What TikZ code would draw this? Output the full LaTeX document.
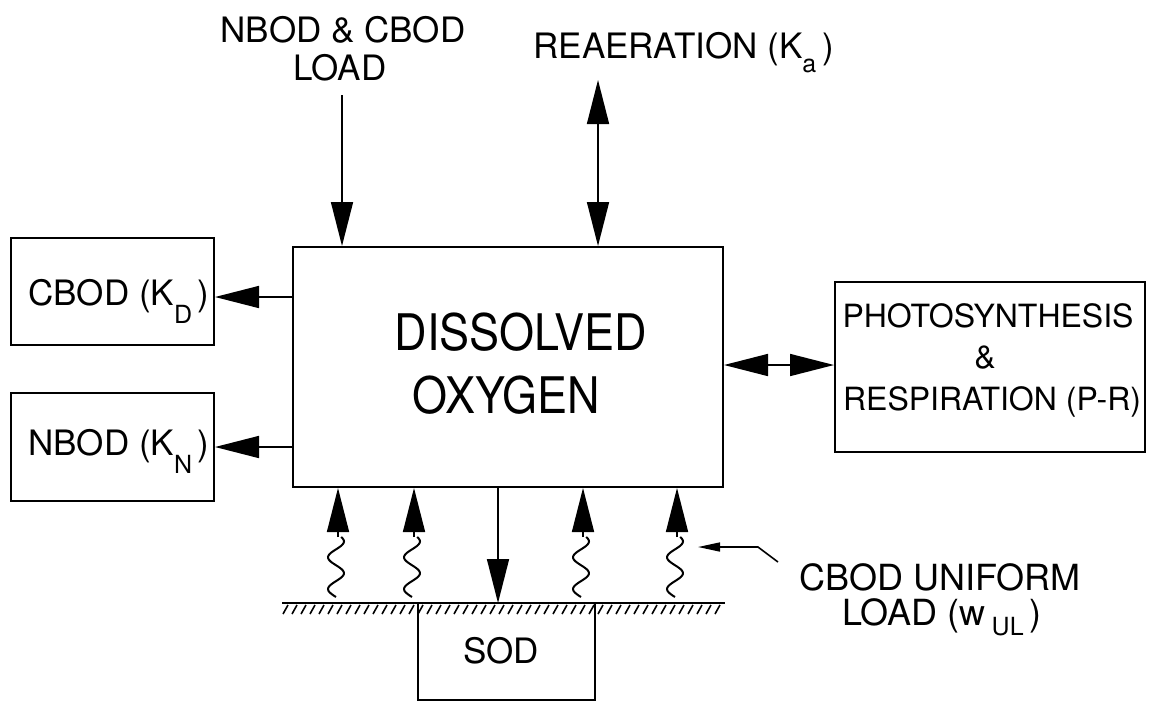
\documentclass[tikz,border=0pt]{standalone}
\usepackage{fontspec}
\setmainfont{TeX Gyre Heros}
\usetikzlibrary{arrows.meta}
\newcommand\smf{\fontsize{17.5}{21}\selectfont}
\newcommand\psf{\fontsize{16}{19}\selectfont}
\newcommand\bgf{\fontsize{22.5}{27}\selectfont}
\newcommand\lsub[2][-9pt]{\raisebox{#1}{\fontsize{12.5}{12.5}\selectfont #2}}
\newcommand\tall[1]{\scalebox{1}[1.12]{#1}}
\tikzset{
  box/.style={draw, line width=1pt, inner sep=0pt},
  txt/.style={font=\smf, inner sep=0pt, anchor=base},
  arr/.style={line width=0.8pt, -{Triangle[length=22pt,width=11pt]}},
  darr/.style={line width=0.8pt, {Triangle[length=22pt,width=11pt]}-{Triangle[length=22pt,width=11pt]}},
  parr/.style={line width=0.8pt, -{Triangle[length=11pt,width=4.5pt]}},
  wave/.style={line width=1pt},
  ground/.style={line width=1pt},
  hatch/.style={line width=0.8pt}
}
\begin{document}
\begin{tikzpicture}[x=0.5pt,y=-0.5pt]
\useasboundingbox (0,0) rectangle (1159,702);
% boxes
\node[box, minimum width=215pt, minimum height=120pt] (do) at (508,367) {};
\node[box, minimum width=101.5pt, minimum height=53.5pt] (cbod) at (112.5,291.5) {};
\node[box, minimum width=101.5pt, minimum height=54pt] (nbod) at (112.5,447) {};
\node[box, minimum width=155pt, minimum height=85pt] (ps) at (990,367) {};
\node[box, minimum width=88.5pt, minimum height=48.5pt] (sod) at (506.5,651.5) {};
% texts
\node[txt, font=\bgf] (do1) at (521,350) {\tall{DISSOLVED}};
\node[txt, font=\bgf] (do2) at (506,413) {\tall{OXYGEN}};
\node[txt, anchor=base west] (cbodt) at (28,305) {CBOD (K\lsub{D}\,)};
\node[txt, anchor=base west] (nbodt) at (28,455) {NBOD (K\lsub{N}\,)};
\node[txt, font=\psf] (ps1) at (988,327) {PHOTOSYNTHESIS};
\node[txt, font=\psf] (ps2) at (985,368) {\&};
\node[txt, font=\psf] (ps3) at (992,410) {RESPIRATION (P-R)};
\node[txt] (sodt) at (501,663) {SOD};
\node[txt] (load1) at (343,42) {NBOD \& CBOD};
\node[txt] (load2) at (340,80) {LOAD};
\node[txt, anchor=base west] (rea) at (533,58) {REAERATION (K\lsub[-7pt]{a}\,)};
\node[txt, font=\fontsize{18}{21}\selectfont] (ul1) at (940,590) {CBOD UNIFORM};
\node[txt, font=\fontsize{18}{21}\selectfont] (ul2) at (942,625) {LOAD (w\,\lsub[-5pt]{UL}\,)};
% top arrows
\coordinate (loadtop) at (342,95);
\coordinate (reatop) at (598,80);
\draw[arr] (loadtop) -- (loadtop |- do.north);
\draw[darr] (reatop) -- (reatop |- do.north);
% side arrows
\draw[arr] (do.west |- 0,297) -- (cbod.east |- 0,297);
\draw[arr] (do.west |- 0,447) -- (nbod.east |- 0,447);
\draw[darr] (do.east |- 0,365) -- (ps.west |- 0,365);
% ground
\coordinate (gl) at (282,603);
\coordinate (gr) at (725,603);
\draw[ground] (gl) -- (gr);
\foreach \hx in {288,297,...,725} \draw[hatch] (\hx,605) -- ++(-5,9);
% down arrow to sediment
\coordinate (sedin) at (498,603);
\draw[arr] (sedin |- do.south) -- (sedin);
% wavy arrows
\foreach \wx in {338,414,583,677} {
  \coordinate (wt) at (\wx,537);
  \draw[arr] (wt) -- (wt |- do.south);
  \draw[wave] plot[domain=0:1, samples=40, smooth, variable=\t] ({\wx-2-8*sin(680*\t)},{597-60*\t});
}
% pointer for uniform load
\coordinate (pa) at (778,562);
\coordinate (pb) at (758,547);
\coordinate (pc) at (698,547);
\draw[parr] (pa) -- (pb) -- (pc);
\end{tikzpicture}
\end{document}
